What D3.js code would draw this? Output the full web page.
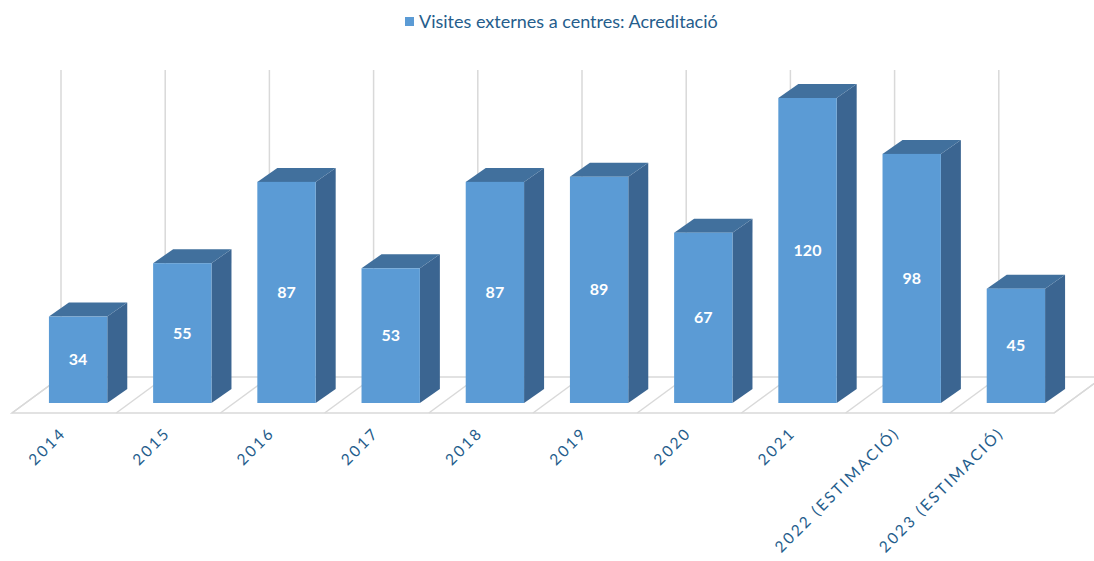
<!DOCTYPE html>
<html><head><meta charset="utf-8">
<script src="https://cdn.jsdelivr.net/npm/d3@7"></script>
<style>html,body{margin:0;padding:0;background:#fff;}svg{display:block;}</style>
</head><body>
<script>
const categories = ["2014","2015","2016","2017","2018","2019","2020","2021","2022 (ESTIMACIÓ)","2023 (ESTIMACIÓ)"];
const values = [34,55,87,53,87,89,67,120,98,45];
const seriesName = "Visites externes a centres: Acreditació";

const W = 1094, H = 561;
const svg = d3.select("body").append("svg").attr("width", W).attr("height", H);

// 3D geometry
const barDepth = {dx: 20, dy: -14};
const floorDepth = {dx: 49, dy: -36};
const barInset = {dx: 14, dy: -10}; // bar front plane relative to floor front

const x = d3.scaleBand().domain(categories).range([26, 26 + 10 * 104.2]).paddingInner(0.44).paddingOuter(0.22);
const y = d3.scaleLinear().domain([0, 120]).range([403, 98]);

const floorFrontY = y(0) - barInset.dy;
const step = x.step();
const floorLeft = x.range()[0] - barInset.dx;
const floorRight = x.range()[1] - barInset.dx;

// floor
const g = svg.append("g");
g.append("polygon")
  .attr("points", [[floorLeft, floorFrontY],[floorRight, floorFrontY],[floorRight+floorDepth.dx, floorFrontY+floorDepth.dy],[floorLeft+floorDepth.dx, floorFrontY+floorDepth.dy]].map(p=>p.join(",")).join(" "))
  .attr("fill", "#fff").attr("stroke", "#d9d9d9").attr("stroke-width", 1.5);
// floor separators
const sepIdx = d3.range(categories.length + 1);
g.selectAll("line.sep").data(sepIdx).join("line")
  .attr("x1", i => floorLeft + i * step).attr("y1", floorFrontY)
  .attr("x2", i => floorLeft + i * step + floorDepth.dx).attr("y2", floorFrontY + floorDepth.dy)
  .attr("stroke", "#d9d9d9").attr("stroke-width", 1.5);
// back gridlines
g.selectAll("line.grid").data(d3.range(categories.length)).join("line")
  .attr("x1", i => floorLeft + i * step + floorDepth.dx).attr("x2", i => floorLeft + i * step + floorDepth.dx)
  .attr("y1", floorFrontY + floorDepth.dy).attr("y2", 70)
  .attr("stroke", "#d9d9d9").attr("stroke-width", 1.5);

// bars
const data = categories.map((c, i) => ({c, v: values[i]}));
const bars = svg.append("g").selectAll("g").data(data).join("g");
bars.append("polygon") // side
  .attr("points", d => {
    const x1 = x(d.c) + x.bandwidth(), yt = y(d.v), yb = y(0);
    return [[x1, yb],[x1, yt],[x1+barDepth.dx, yt+barDepth.dy],[x1+barDepth.dx, yb+barDepth.dy]].map(p=>p.join(",")).join(" ");
  }).attr("fill", "#3b6591");
bars.append("polygon") // top
  .attr("points", d => {
    const x0 = x(d.c), x1 = x0 + x.bandwidth(), yt = y(d.v);
    return [[x0, yt],[x1, yt],[x1+barDepth.dx, yt+barDepth.dy],[x0+barDepth.dx, yt+barDepth.dy]].map(p=>p.join(",")).join(" ");
  }).attr("fill", "#41709d");
bars.append("rect") // front
  .attr("x", d => x(d.c)).attr("y", d => y(d.v))
  .attr("width", x.bandwidth()).attr("height", d => y(0) - y(d.v))
  .attr("fill", "#5b9bd5");
bars.append("text")
  .attr("x", d => x(d.c) + x.bandwidth() / 2)
  .attr("y", d => (y(d.v) + y(0)) / 2)
  .attr("dy", "0.35em").attr("text-anchor", "middle")
  .attr("fill", "#fff").attr("font-family", "Lato, 'Open Sans', sans-serif")
  .attr("font-weight", "bold").attr("font-size", 16)
  .text(d => d.v);

// x labels
svg.append("g").selectAll("text").data(categories).join("text")
  .attr("transform", (c, i) => `translate(${floorLeft + i * step + step / 2 + 3},${floorFrontY + 21}) rotate(-45)`)
  .attr("text-anchor", "end")
  .attr("fill", "#255d8c").attr("font-family", "Lato, 'Open Sans', sans-serif")
  .attr("font-size", 15.5).attr("letter-spacing", "2.4px")
  .text(c => c);

// legend
const leg = svg.append("g");
leg.append("rect").attr("x", 405).attr("y", 17).attr("width", 9).attr("height", 9).attr("fill", "#5b9bd5");
leg.append("text").attr("x", 419).attr("y", 28)
  .attr("fill", "#255d8c").attr("font-family", "Lato, 'Open Sans', sans-serif")
  .attr("font-size", 18).text(seriesName);
</script>
</body></html>
